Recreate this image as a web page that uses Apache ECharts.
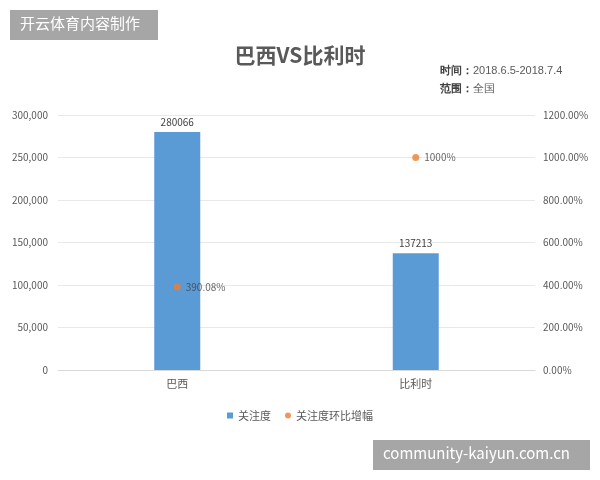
<!DOCTYPE html>
<html>
<head>
<meta charset="utf-8">
<script src="https://cdn.jsdelivr.net/npm/echarts@6/dist/echarts.min.js"></script>
</head>
<body style="margin:0">
<div id="main" style="width:600px;height:480px"></div>
<script>
var categories = ['巴西', '比利时'];
var attention = [280066, 137213];
var growth = [390.08, 1000];
var leftTicks = [0, 300000, 50000];
var rightTicks = [0, 1200, 200];

var chart = echarts.init(document.getElementById('main'));
var font = '"Noto Sans CJK SC", sans-serif';
chart.setOption({
    textStyle: {fontFamily: font},
    title: {
        text: '巴西VS比利时', left: 'center', top: 40,
        textStyle: {fontSize: 21, fontWeight: 'bold', color: '#595959', fontFamily: font}
    },
    graphic: [
        {type: 'rect', left: 10, top: 10, shape: {width: 148, height: 30}, style: {fill: '#a6a6a6'}},
        {type: 'text', left: 20, top: 16, style: {text: '开云体育内容制作', fill: '#fff', font: '15px ' + font}},
        {type: 'rect', left: 373, top: 440, shape: {width: 217, height: 30}, style: {fill: '#a6a6a6'}},
        {type: 'text', left: 383, top: 446, style: {text: 'community-kaiyun.com.cn', fill: '#fff', font: '15px ' + font}},
        {type: 'text', left: 440, top: 62, style: {rich: {b: {fontWeight: 'bold', fill: '#404040', fontSize: 11}, n: {fill: '#595959', fontSize: 11}}, text: '{b|时间：}{n|2018.6.5-2018.7.4}\n{b|范围：}{n|全国}', lineHeight: 18, font: '11px ' + font}}
    ],
    legend: {
        bottom: 54, left: 'center', itemWidth: 6, itemHeight: 6, itemGap: 14,
        textStyle: {fontSize: 11, color: '#595959'},
        data: [{name: '关注度', icon: 'rect'}, {name: '关注度环比增幅', icon: 'circle'}]
    },
    grid: {left: 58, right: 65, top: 115, bottom: 110},
    xAxis: {
        type: 'category', data: categories,
        axisLine: {lineStyle: {color: '#d9d9d9'}}, axisTick: {show: false},
        axisLabel: {color: '#595959', fontSize: 11}
    },
    yAxis: [
        {type: 'value', min: leftTicks[0], max: leftTicks[1], interval: leftTicks[2],
         axisLabel: {color: '#595959', fontSize: 10, margin: 10}, splitLine: {lineStyle: {color: '#e8e8e8'}}},
        {type: 'value', min: rightTicks[0], max: rightTicks[1], interval: rightTicks[2],
         axisLabel: {color: '#595959', fontSize: 10, formatter: function (v) { return v.toFixed(2) + '%'; }},
         splitLine: {show: false}}
    ],
    series: [
        {name: '关注度', type: 'bar', data: attention, barWidth: 46,
         itemStyle: {color: '#5b9bd5'},
         label: {show: true, position: 'top', color: '#404040', fontSize: 10}},
        {name: '关注度环比增幅', type: 'scatter', yAxisIndex: 1, data: growth, symbolSize: 7,
         itemStyle: {color: '#ed7d31'},
         label: {show: true, position: 'right', color: '#404040', fontSize: 10,
                 formatter: function (p) { return p.value + '%'; }}}
    ]
});
</script>
</body>
</html>
